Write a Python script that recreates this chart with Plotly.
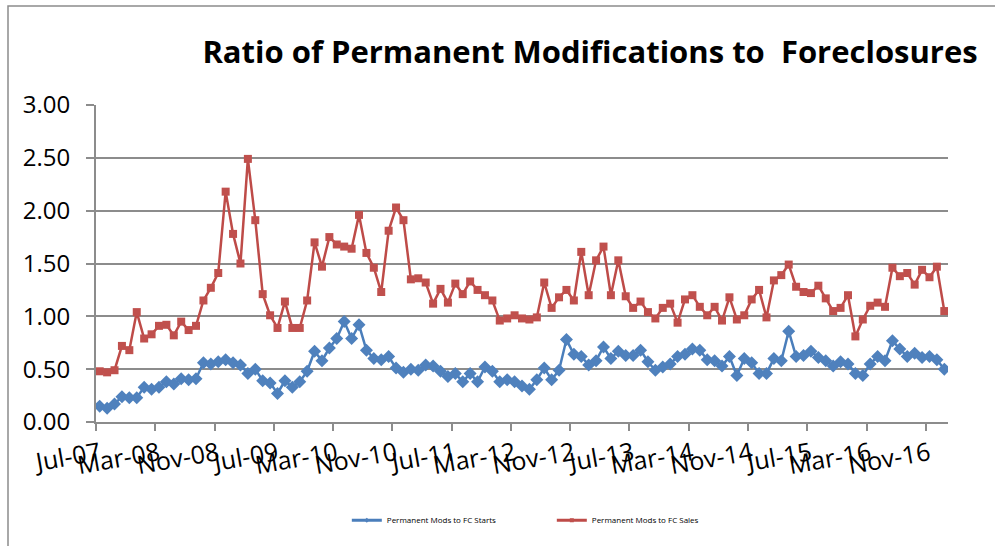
import pandas as pd
import plotly.graph_objects as go

# Monthly categories Jul-07 .. Jan-17
months = pd.date_range("2007-07-01", periods=115, freq="MS").strftime("%b-%y").tolist()

fc_starts = [
    0.15, 0.13, 0.17, 0.24, 0.23, 0.23, 0.33, 0.31, 0.33, 0.38,
    0.36, 0.41, 0.40, 0.41, 0.56, 0.55, 0.57, 0.59, 0.56, 0.54,
    0.46, 0.50, 0.39, 0.37, 0.27, 0.39, 0.33, 0.38, 0.48, 0.67,
    0.58, 0.70, 0.79, 0.95, 0.79, 0.92, 0.68, 0.60, 0.59, 0.62,
    0.51, 0.47, 0.50, 0.49, 0.54, 0.53, 0.48, 0.43, 0.46, 0.38,
    0.46, 0.38, 0.52, 0.48, 0.38, 0.40, 0.38, 0.34, 0.31, 0.40,
    0.51, 0.40, 0.49, 0.78, 0.64, 0.62, 0.54, 0.58, 0.71, 0.60,
    0.67, 0.63, 0.63, 0.68, 0.57, 0.49, 0.52, 0.55, 0.62, 0.64,
    0.69, 0.68, 0.59, 0.58, 0.53, 0.62, 0.44, 0.60, 0.56, 0.46,
    0.46, 0.60, 0.58, 0.86, 0.62, 0.63, 0.67, 0.61, 0.58, 0.53,
    0.57, 0.55, 0.46, 0.44, 0.55, 0.62, 0.58, 0.77, 0.69, 0.62,
    0.65, 0.61, 0.62, 0.59, 0.50,
]

fc_sales = [
    0.48, 0.47, 0.49, 0.72, 0.68, 1.04, 0.79, 0.83, 0.91, 0.92,
    0.82, 0.95, 0.87, 0.91, 1.15, 1.27, 1.41, 2.18, 1.78, 1.50,
    2.49, 1.91, 1.21, 1.01, 0.89, 1.14, 0.89, 0.89, 1.15, 1.70,
    1.47, 1.75, 1.68, 1.66, 1.64, 1.96, 1.60, 1.46, 1.23, 1.81,
    2.03, 1.91, 1.35, 1.36, 1.32, 1.12, 1.26, 1.13, 1.31, 1.21,
    1.33, 1.25, 1.20, 1.15, 0.96, 0.98, 1.01, 0.98, 0.97, 0.99,
    1.32, 1.08, 1.18, 1.25, 1.15, 1.61, 1.20, 1.53, 1.66, 1.20,
    1.53, 1.19, 1.08, 1.14, 1.04, 0.98, 1.08, 1.12, 0.94, 1.16,
    1.20, 1.09, 1.01, 1.09, 0.96, 1.18, 0.97, 1.01, 1.16, 1.25,
    0.99, 1.34, 1.39, 1.49, 1.28, 1.23, 1.22, 1.29, 1.17, 1.05,
    1.08, 1.20, 0.81, 0.97, 1.10, 1.13, 1.09, 1.46, 1.38, 1.41,
    1.30, 1.44, 1.37, 1.47, 1.05,
]

y_ticks = [0, 0.5, 1.0, 1.5, 2.0, 2.5, 3.0]
label_step = 8

idx = list(range(len(months)))
tick_idx = idx[::label_step]
tick_text = [months[i] for i in tick_idx]
bound_idx = [i - 0.5 for i in tick_idx]

BLUE_L, BLUE_M = "#4A7EBB", "#4F81BD"
RED_L, RED_M = "#BE4B48", "#C0504D"

fig = go.Figure()
fig.add_trace(go.Scatter(
    x=idx, y=fc_starts, mode="lines+markers", name="Permanent Mods to FC Starts",
    line=dict(color=BLUE_L, width=2.5),
    marker=dict(symbol="diamond", size=10, color=BLUE_M),
    showlegend=False,
))
fig.add_trace(go.Scatter(
    x=idx, y=fc_sales, mode="lines+markers", name="Permanent Mods to FC Sales",
    line=dict(color=RED_L, width=2.5),
    marker=dict(symbol="square", size=8, color=RED_M),
    showlegend=False,
))
# legend entries with small markers (as in the original)
fig.add_trace(go.Scatter(
    x=[None], y=[None], mode="lines+markers", name="Permanent Mods to FC Starts",
    line=dict(color=BLUE_L, width=3), marker=dict(symbol="diamond", size=4, color=BLUE_M),
))
fig.add_trace(go.Scatter(
    x=[None], y=[None], mode="lines+markers", name="Permanent Mods to FC Sales",
    line=dict(color=RED_L, width=3), marker=dict(symbol="square", size=4, color=RED_M),
))

xr = [-0.5, len(months) - 0.5]
FONT = "Open Sans"

fig.update_layout(
    width=995, height=546,
    margin=dict(l=96, r=47, t=105, b=124, autoexpand=False),
    paper_bgcolor="white", plot_bgcolor="white",
    font=dict(family=FONT, color="black"),
    title=dict(
        text="<b>Ratio of Permanent Modifications to  Foreclosures</b>",
        font=dict(family=FONT, size=31, color="black"),
        x=0.593, xanchor="center", xref="container",
        y=0.905, yanchor="middle", yref="container",
    ),
    showlegend=True,
    legend=dict(
        orientation="h", x=0.535, xanchor="center", y=-0.31, yanchor="middle",
        font=dict(family=FONT, size=8, color="black"),
        entrywidth=160, entrywidthmode="pixels", bgcolor="rgba(0,0,0,0)",
    ),
    xaxis=dict(
        range=xr, tickmode="array", tickvals=tick_idx, ticktext=tick_text,
        tickangle=-10, ticks="", showgrid=False, zeroline=False,
        showline=True, linecolor="#8c8c8c", linewidth=2,
        tickfont=dict(family=FONT, size=25, color="black"),
        ticklabelstandoff=6, automargin=False,
    ),
    xaxis2=dict(
        range=xr, overlaying="x", side="bottom", anchor="y",
        tickmode="array", tickvals=bound_idx, ticks="outside", ticklen=8,
        tickwidth=1.5, tickcolor="#8c8c8c", showticklabels=False,
        showgrid=False, zeroline=False, showline=False, automargin=False,
    ),
    yaxis=dict(
        range=[0, 3], tickmode="array", tickvals=y_ticks, tickformat=".2f",
        ticks="outside", ticklen=8, tickwidth=1.5, tickcolor="#8c8c8c",
        showgrid=True, gridcolor="#8c8c8c", gridwidth=1.5, zeroline=False,
        showline=True, linecolor="#8c8c8c", linewidth=2,
        tickfont=dict(family=FONT, size=24, color="black"),
        ticklabelstandoff=11, automargin=False,
    ),
    shapes=[dict(
        type="rect", xref="paper", yref="paper",
        x0=(8 - 96) / 852, x1=(1010 - 96) / 852,
        y0=(422 - 560) / 317, y1=(422 - 6) / 317,
        line=dict(color="#8c8c8c", width=1.5), fillcolor="rgba(0,0,0,0)",
        layer="below",
    )],
)

# invisible point on xaxis2 so the overlay axis (boundary tick marks) is rendered
fig.add_trace(go.Scatter(x=[xr[0]], y=[0], xaxis="x2", mode="markers",
                         marker=dict(opacity=0), showlegend=False, hoverinfo="skip"))

# remove the default page margin so the figure starts at the window's corner
fig.write_html("out.html", config={"displayModeBar": False},
               post_script="document.body.style.margin='0px';")
